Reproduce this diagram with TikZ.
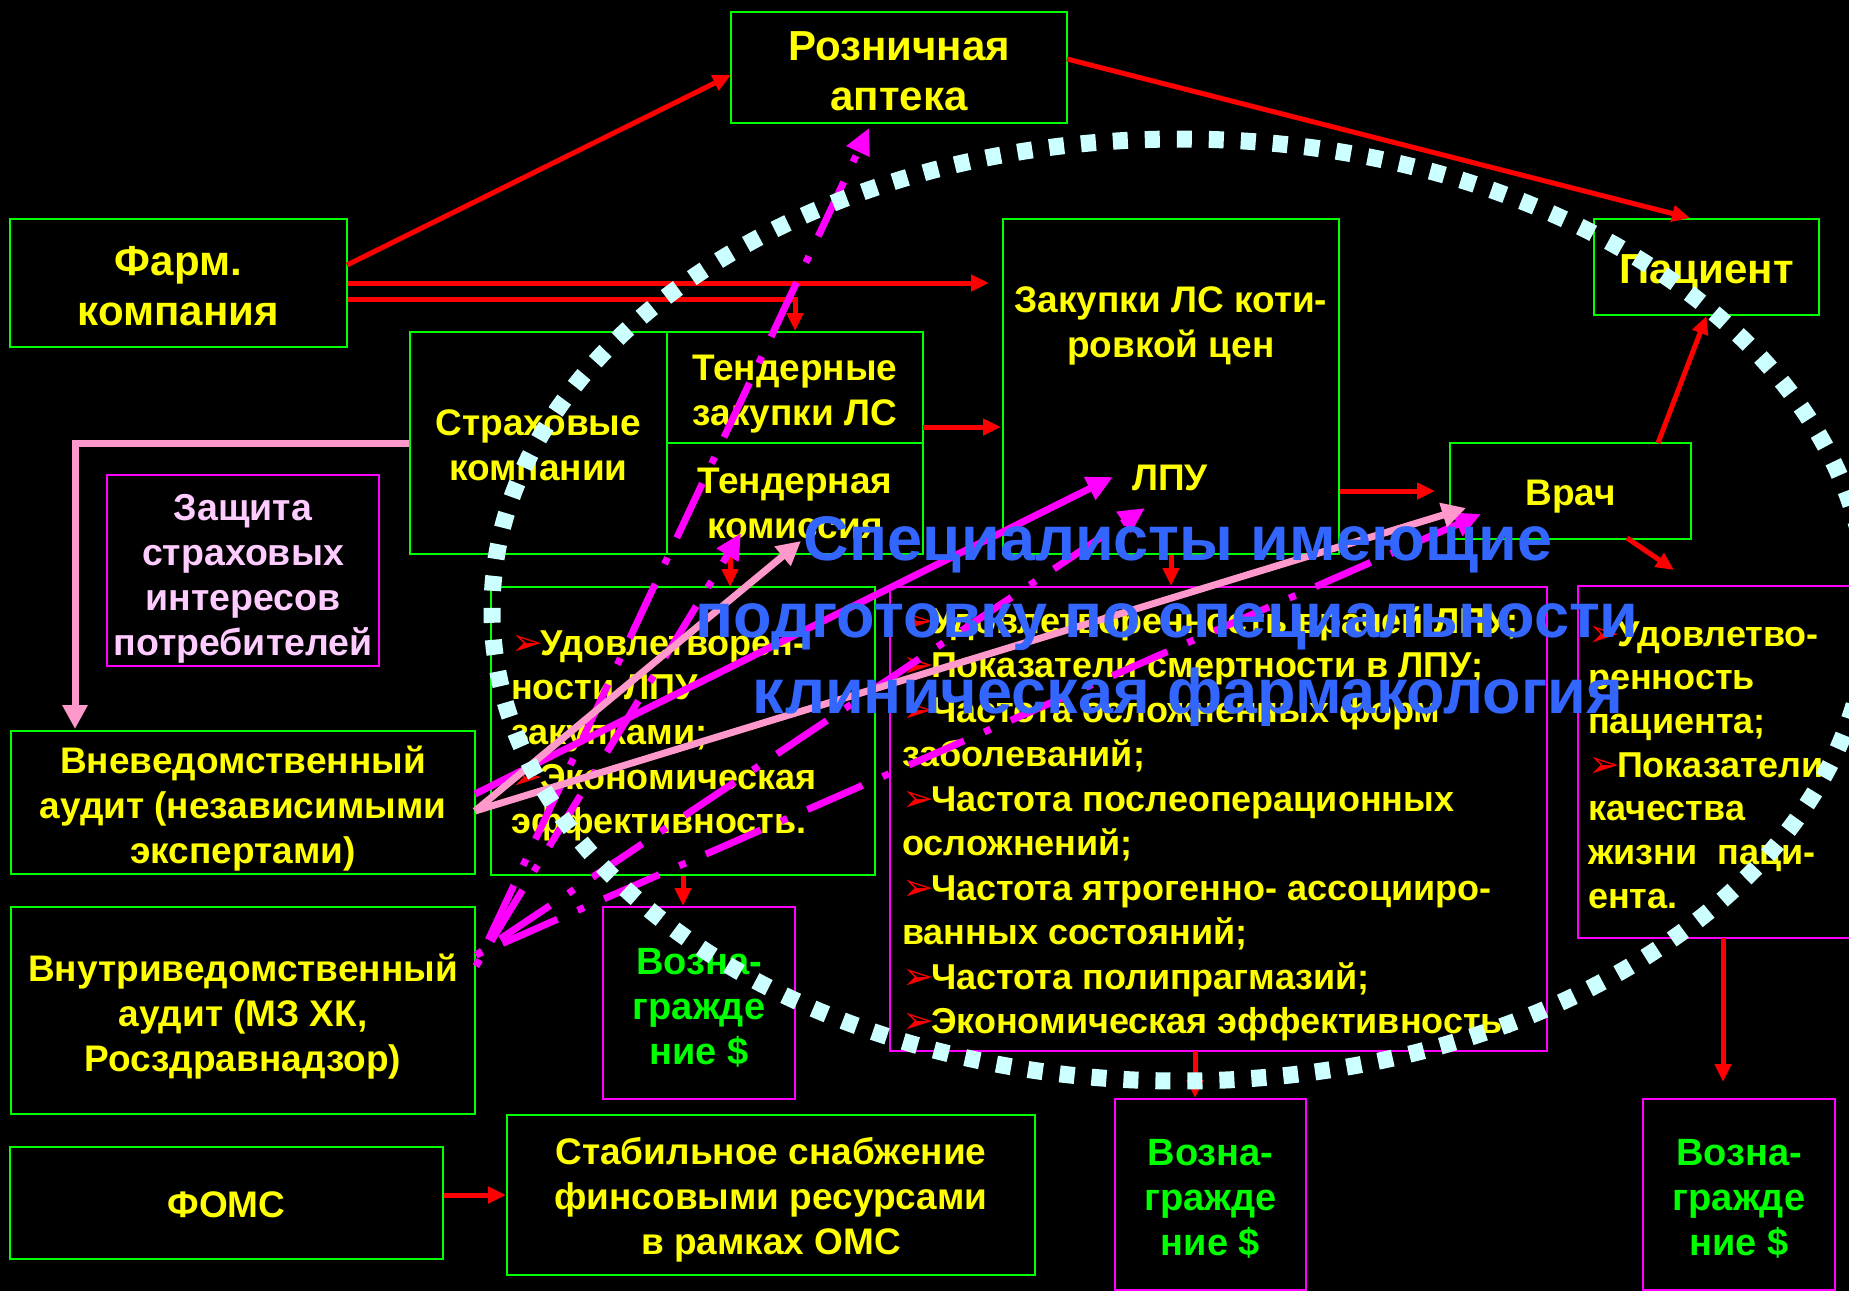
\documentclass[tikz,border=0pt]{standalone}
\usepackage{fontspec}
\setmainfont{Liberation Sans}
\newfontfamily\djvfont{DejaVu Sans}
\usetikzlibrary{arrows.meta}
\definecolor{ylw}{HTML}{FFFF00}
\definecolor{grn}{HTML}{00FF00}
\definecolor{mag}{HTML}{FF00FF}
\definecolor{pnk}{HTML}{FF99CC}
\definecolor{lav}{HTML}{FFCCFF}
\definecolor{cyn}{HTML}{CCFFFF}
\definecolor{blu}{HTML}{3366FF}
\definecolor{rd}{HTML}{FF0000}
\newcommand{\mybullet}{{\color{rd}\djvfont\fontsize{38}{38}\selectfont ➢}\kern-3pt}
\begin{document}
\begin{tikzpicture}[x=1pt,y=-1pt,
  gbox/.style={draw=grn,line width=2pt,inner sep=0pt},
  mbox/.style={draw=mag,line width=2pt,inner sep=0pt},
  btxt/.style={text=ylw,inner sep=0pt,align=center,font=\bfseries\fontsize{37}{45}\selectfont},
  bigtxt/.style={btxt,font=\bfseries\fontsize{42}{50}\selectfont},
  ltxt/.style={text=ylw,inner sep=0pt,anchor=base west,font=\bfseries\fontsize{36}{44}\selectfont},
  ctxt/.style={text=ylw,inner sep=0pt,anchor=base,font=\bfseries\fontsize{37}{45}\selectfont},
  vozn/.style={btxt,text=grn,font=\bfseries\fontsize{38}{45}\selectfont},
  redarr/.style={draw=rd,line width=5pt,-{Triangle[length=18pt,width=16pt]}},
  pnkarr/.style={draw=pnk,line width=7pt,-{Triangle[length=24pt,width=24pt]}},
  magarr/.style={draw=mag,line width=7pt,-{Triangle[length=26pt,width=24pt]}},
  magdd/.style={magarr,dash pattern=on 7pt off 22pt on 60pt off 22pt},
  dots/.style={draw=cyn,line width=17pt,dash pattern=on 15pt off 17pt},
  bluetxt/.style={text=blu,inner sep=0pt,anchor=base,font=\bfseries\fontsize{63}{77}\selectfont}
]
\fill[black] (0,0) rectangle (1849,1291);
\useasboundingbox (0,0) rectangle (1849,1291);
\clip (0,0) rectangle (1849,1291);

% boxes
\node[gbox,minimum width=336pt,minimum height=111pt] (apteka) at (899,67.5) {};
\node[gbox,minimum width=337pt,minimum height=128pt] (farm) at (178.5,283) {};
\node[gbox,minimum width=257pt,minimum height=222pt] (strah) at (538.5,443) {};
\node[gbox,minimum width=256pt,minimum height=111pt] (tendz) at (795,387.5) {};
\node[gbox,minimum width=256pt,minimum height=111pt] (tendk) at (795,498.5) {};
\node[gbox,minimum width=336pt,minimum height=335pt] (zakup) at (1171,386.5) {};
\node[gbox,minimum width=241pt,minimum height=96pt] (vrach) at (1570.5,491) {};
\node[gbox,minimum width=225pt,minimum height=96pt] (pacient) at (1706.5,267) {};
\node[mbox,minimum width=272pt,minimum height=191pt] (zashita) at (243,570.5) {};
\node[gbox,minimum width=464pt,minimum height=143pt] (vneved) at (243,802.5) {};
\node[gbox,minimum width=464pt,minimum height=207pt] (vnutr) at (243,1010.5) {};
\node[gbox,minimum width=433pt,minimum height=112pt] (foms) at (226.5,1203) {};
\node[gbox,minimum width=528pt,minimum height=160pt] (stab) at (771,1195) {};
\node[mbox,minimum width=192pt,minimum height=192pt] (voz1) at (699,1003) {};
\node[mbox,minimum width=191pt,minimum height=191pt] (voz2) at (1210.5,1194.5) {};
\node[mbox,minimum width=192pt,minimum height=191pt] (voz3) at (1739,1194.5) {};
\node[gbox,minimum width=384pt,minimum height=288pt] (udov) at (683,731) {};
\node[mbox,minimum width=657pt,minimum height=464pt] (biglist) at (1218.5,819) {};
\node[mbox,minimum width=282pt,minimum height=352pt] (rightlist) at (1719,762) {};

% box texts
\node[bigtxt] (apteka-t) at ([yshift=-3.5pt]apteka.center) {Розничная\\аптека};
\node[bigtxt] (farm-t) at ([yshift=-3pt]farm.center) {Фарм.\\компания};
\node[btxt] (strah-t) at ([yshift=-2.5pt]strah.center) {Страховые\\компании};
\node[btxt] (tendz-t) at ([yshift=-7pt]tendz.center) {Тендерные\\закупки ЛС};
\node[btxt] (tendk-t) at ([yshift=-5pt]tendk.center) {Тендерная\\комиссия};
\node[ctxt] (zak1) at (1171,312) {Закупки ЛС коти-};
\node[ctxt] (zak2) at (1171,357) {ровкой цен};
\node[ctxt] (lpu) at (1170,490) {ЛПУ};
\node[btxt] (vrach-t) at ([yshift=-6pt]vrach.center) {Врач};
\node[bigtxt] (pacient-t) at ([yshift=-6pt]pacient.center) {Пациент};
\node[btxt,text=lav,font=\bfseries\fontsize{37.5}{45}\selectfont] (zashita-t) at ([yshift=-8pt]zashita.center) {Защита\\страховых\\интересов\\потребителей};
\node[btxt] (vneved-t) at ([yshift=-6pt]vneved.center) {Вневедомственный\\аудит (независимыми\\экспертами)};
\node[btxt] (vnutr-t) at ([yshift=-6pt]vnutr.center) {Внутриведомственный\\аудит (МЗ ХК,\\Росздравнадзор)};
\node[btxt] (foms-t) at ([yshift=-2pt]foms.center) {ФОМС};
\node[btxt] (stab-t) at ([yshift=-5pt]stab.center) {Стабильное снабжение\\финсовыми ресурсами\\в рамках ОМС};
\node[vozn] (voz1-t) at ([yshift=-4.5pt]voz1.center) {Возна-\\гражде\\ние \$};
\node[vozn] (voz2-t) at ([yshift=-4.5pt]voz2.center) {Возна-\\гражде\\ние \$};
\node[vozn] (voz3-t) at ([yshift=-4.5pt]voz3.center) {Возна-\\гражде\\ние \$};

% lists
\foreach \t [count=\i from 0] in {{\mybullet Удовлетворен-},{ности ЛПУ},{закупками;},{\mybullet Экономическая},{эффективность.}}
  \node[ltxt] (ud\i) at (511,655+44.7*\i) {\t};
\foreach \t [count=\i from 0] in {{\mybullet Удовлетворенность врачей ЛПУ;},{\mybullet Показатели смертности в ЛПУ;},{\mybullet Частота осложненных форм},{заболеваний;},{\mybullet Частота послеоперационных},{осложнений;},{\mybullet Частота ятрогенно- ассоцииро-},{ванных состояний;},{\mybullet Частота полипрагмазий;},{\mybullet Экономическая эффективность.}}
  \node[ltxt] (bl\i) at (902,633+44.5*\i) {\t};
\foreach \t [count=\i from 0] in {{\mybullet Удовлетво-},{ренность},{пациента;},{\mybullet Показатели},{качества},{жизни~~паци-},{ента.}}
  \node[ltxt] (rl\i) at (1588,646+43.7*\i) {\t};

% red connectors
\coordinate (fa1) at (347,265);
\coordinate (fa2) at (731,75);
\coordinate (zkin) at (989,283);
\coordinate (tz1) at (923,427);
\coordinate (tz2) at (1001,427);
\coordinate (tk1) at (730,554);
\coordinate (tk2) at (730,587);
\coordinate (vr1) at (1658,443);
\coordinate (vr2) at (1627,538);
\coordinate (vr3) at (1674,570);
\coordinate (ap1) at (1067,59);
\coordinate (pc1) at (1690,218);
\coordinate (bq1) at (1195,1051);
\coordinate (rq1) at (1723,938);
\coordinate (rq2) at (1723,1082);
\draw[redarr] (fa1) -- (fa2);
\draw[redarr] (farm.east) -- (zkin);
\draw[redarr] ([yshift=-16pt]farm.east) -| (tendz.north);
\draw[redarr] (tz1) -- (tz2);
\draw[redarr] (tk1) -- (tk2);
\draw[redarr] (udov.south) -- (udov.south |- voz1.north);
\draw[redarr] (zakup.south) -- (zakup.south |- biglist.north);
\draw[redarr] (zakup.east |- vrach.west) -- ([xshift=-14pt]vrach.west);
\draw[redarr] (vr1) -- (pacient.south);
\draw[redarr] (vr2) -- (vr3);
\draw[redarr] (ap1) -- (pc1);
\draw[redarr] (bq1) -- (bq1 |- voz2.north);
\draw[redarr] (rq1) -- (rq2);
\draw[redarr] (foms.east |- stab.west) -- (stab.west);

% pink connector
\coordinate (pk1) at (75,729);
\draw[pnkarr] (strah.west) -| (pk1);

% overlay lines
\coordinate (vn1) at (475,794);
\coordinate (vn2) at (475,811);
\coordinate (vt1) at (476,966);
\coordinate (vt2) at (476,955);
\coordinate (m1e) at (1113,477);
\coordinate (p1e) at (801,541);
\coordinate (p2e) at (1466,508);
\coordinate (l1e) at (869,128);
\coordinate (l2e) at (741,533);
\coordinate (l3e) at (1145,508);
\coordinate (l4e) at (1481,514);
\draw[magdd] (vt1) -- (l1e);
\draw[magdd] (vt1) -- (l2e);
\draw[magdd] (vt2) -- (l3e);
\draw[magdd] (vt2) -- (l4e);
\draw[magarr] (vn1) -- (m1e);
\draw[pnkarr] (vn2) -- (p1e);
\draw[pnkarr] (vn2) -- (p2e);

% dotted ellipse
\draw[dots] (1180,610) ellipse [x radius=688, y radius=471];

% blue text
\node[bluetxt] (sp1) at (1178,560) {Специалисты имеющие};
\node[bluetxt] (sp2) at (1167,637) {подготовку по специальности};
\node[bluetxt] (sp3) at (1188,713) {клиническая фармакология};
\end{tikzpicture}
\end{document}
